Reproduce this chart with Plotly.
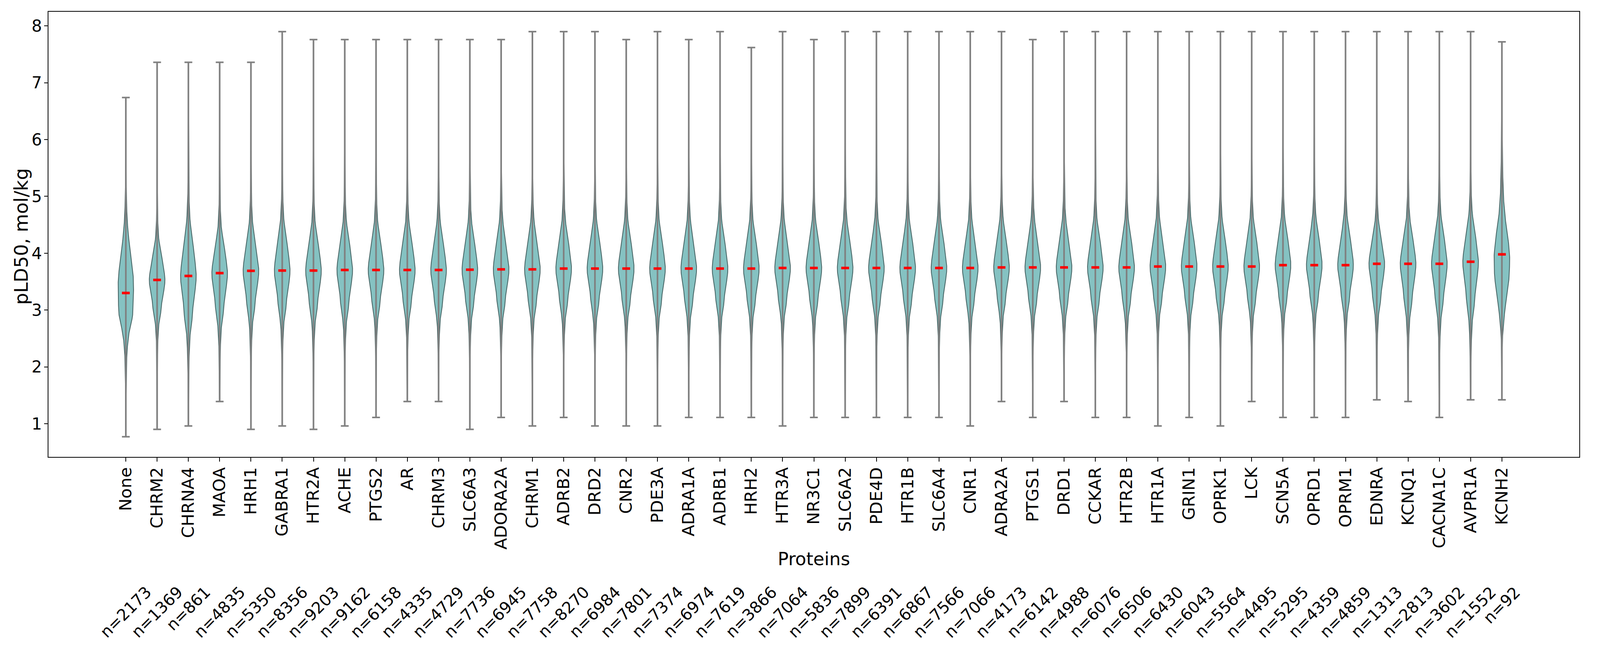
import numpy as np
import plotly.graph_objects as go

# ---------------- data ----------------
proteins = ["None", "CHRM2", "CHRNA4", "MAOA", "HRH1", "GABRA1", "HTR2A", "ACHE", "PTGS2", "AR",
            "CHRM3", "SLC6A3", "ADORA2A", "CHRM1", "ADRB2", "DRD2", "CNR2", "PDE3A", "ADRA1A", "ADRB1",
            "HRH2", "HTR3A", "NR3C1", "SLC6A2", "PDE4D", "HTR1B", "SLC6A4", "CNR1", "ADRA2A", "PTGS1",
            "DRD1", "CCKAR", "HTR2B", "HTR1A", "GRIN1", "OPRK1", "LCK", "SCN5A", "OPRD1", "OPRM1",
            "EDNRA", "KCNQ1", "CACNA1C", "AVPR1A", "KCNH2"]

counts = [2173, 1369, 861, 4835, 5350, 8356, 9203, 9162, 6158, 4335,
          4729, 7736, 6945, 7758, 8270, 6984, 7801, 7374, 6974, 7619,
          3866, 7064, 5836, 7899, 6391, 6867, 7566, 7066, 4173, 6142,
          4988, 6076, 6506, 6430, 6043, 5564, 4495, 5295, 4359, 4859,
          1313, 2813, 3602, 1552, 92]

medians = [3.30, 3.53, 3.60, 3.65, 3.69, 3.695, 3.695, 3.705, 3.705, 3.705,
           3.705, 3.71, 3.716, 3.716, 3.73, 3.73, 3.73, 3.73, 3.73, 3.73,
           3.73, 3.74, 3.74, 3.74, 3.74, 3.74, 3.74, 3.74, 3.75, 3.75,
           3.75, 3.75, 3.75, 3.766, 3.766, 3.766, 3.766, 3.79, 3.79, 3.79,
           3.814, 3.814, 3.814, 3.85, 3.98]

mins = [0.77, 0.90, 0.96, 1.39, 0.90, 0.96, 0.90, 0.96, 1.11, 1.39,
        1.39, 0.90, 1.11, 0.96, 1.11, 0.96, 0.96, 0.96, 1.11, 1.11,
        1.11, 0.96, 1.11, 1.11, 1.11, 1.11, 1.11, 0.96, 1.39, 1.11,
        1.39, 1.11, 1.11, 0.96, 1.11, 0.96, 1.39, 1.11, 1.11, 1.11,
        1.42, 1.39, 1.11, 1.42, 1.42]

maxs = [6.74, 7.36, 7.36, 7.36, 7.36, 7.90, 7.76, 7.76, 7.76, 7.76,
        7.76, 7.76, 7.76, 7.90, 7.90, 7.90, 7.76, 7.90, 7.76, 7.90,
        7.62, 7.90, 7.76, 7.90, 7.90, 7.90, 7.90, 7.90, 7.90, 7.76,
        7.90, 7.90, 7.90, 7.90, 7.90, 7.90, 7.90, 7.90, 7.90, 7.90,
        7.90, 7.90, 7.90, 7.90, 7.72]

# spread of each body above / below the median, relative to the typical body
spread_up = [1.0, 0.85, 1.15, 0.95, 1.0, 1.05, 1.0, 1.0, 1.0, 1.0,
             1.0, 1.0, 1.0, 1.0, 1.0, 1.0, 1.0, 1.0, 1.0, 1.0,
             1.0, 1.0, 1.0, 1.0, 1.0, 1.0, 1.0, 1.0, 1.0, 1.0,
             1.0, 1.0, 1.0, 1.0, 1.0, 1.0, 1.0, 1.0, 1.0, 1.0,
             0.9, 0.95, 1.0, 1.0, 1.0]
spread_lo = [1.0, 0.9, 1.2, 1.1, 1.05, 1.05, 1.05, 1.05, 1.0, 1.0,
             1.0, 1.0, 1.0, 1.0, 1.0, 1.0, 1.0, 1.0, 1.0, 1.0,
             1.0, 1.0, 1.0, 1.0, 1.0, 1.0, 1.0, 1.0, 1.0, 1.0,
             1.0, 1.0, 1.0, 1.0, 1.0, 1.0, 1.0, 1.0, 1.0, 1.0,
             1.05, 1.1, 1.1, 1.2, 1.0]

shape_kind = ["none"] + ["typical"] * 43 + ["kcnh2"]

# body outlines: offset from median -> relative half width (1 = widest)
typical_offsets = [-3.2, -2.5, -1.9, -1.55, -1.2, -1.0, -0.85, -0.71, -0.6, -0.5, -0.43, -0.29,
                   -0.15, -0.05, 0.0, 0.08, 0.21, 0.43, 0.64, 0.85, 1.06, 1.27, 1.63, 2.2, 3.0, 4.3]
typical_widths = [0.0, 0.012, 0.03, 0.045, 0.09, 0.15, 0.23, 0.38, 0.52, 0.56, 0.6, 0.76,
                  0.93, 0.99, 1.0, 0.98, 0.86, 0.65, 0.41, 0.21, 0.12, 0.075, 0.045, 0.02, 0.008, 0.0]

none_offsets = [-2.6, -2.0, -1.82, -1.47, -1.12, -0.98, -0.84, -0.70, -0.57, -0.43, -0.29,
                -0.08, 0.12, 0.33, 0.54, 0.70, 0.92, 1.13, 1.34, 1.63, 1.98, 2.33, 3.0, 3.5]
none_widths = [0.0, 0.02, 0.03, 0.06, 0.12, 0.18, 0.27, 0.41, 0.6, 0.84, 0.93,
               0.96, 1.0, 0.93, 0.73, 0.6, 0.4, 0.25, 0.15, 0.08, 0.04, 0.025, 0.01, 0.0]

kcnh2_offsets = [-2.56, -1.79, -1.44, -1.23, -0.95, -0.67, -0.39, -0.11, 0.0, 0.3, 0.65,
                 1.0, 1.35, 1.88, 2.4, 3.0, 3.74]
kcnh2_widths = [0.0, 0.03, 0.09, 0.2, 0.4, 0.7, 0.94, 1.0, 0.99, 0.78, 0.4,
                0.2, 0.12, 0.06, 0.04, 0.02, 0.0]

profiles = {
    "typical": (typical_offsets, typical_widths),
    "none": (none_offsets, none_widths),
    "kcnh2": (kcnh2_offsets, kcnh2_widths),
}

# ---------------- page geometry ----------------
# The photographed viewport is about 4080 px wide and 1686 px tall; the page
# has the default 8 px body margin. Map reference-picture pixels onto it.
VIEW_W, VIEW_H = 4080, 1686
REF_W = 4359
KX = VIEW_W / REF_W
BODY = 8


def fx(p):
    return p * KX - BODY


def fy(p):
    return p - BODY


W, H = VIEW_W - 2 * BODY, VIEW_H - 2 * BODY
ax_left, ax_right = fx(133), fx(4319)
ax_top, ax_bottom = fy(30), fy(1169)
L, R, T, B = ax_left, W - ax_right, ax_top, H - ax_bottom
plot_w, plot_h = ax_right - ax_left, ax_bottom - ax_top

# ---------------- styling ----------------
FONT = "DejaVu Sans"
BODY_FILL = "rgba(0,128,128,0.48)"
BODY_EDGE = "rgb(72,102,102)"
BAR_COLOR = "#808080"
HALF_WIDTH = 0.25
CAP_HALF = 0.125

fig = go.Figure()
positions = list(range(len(proteins)))

for i, name in enumerate(proteins):
    lo, hi, med = mins[i], maxs[i], medians[i]
    offs, wids = profiles[shape_kind[i]]
    y = np.linspace(lo, hi, 500)
    d = y - med
    dn = np.where(d >= 0, d / spread_up[i], d / spread_lo[i])
    w = HALF_WIDTH * np.interp(dn, offs, wids)
    xs = np.concatenate([positions[i] - w, (positions[i] + w)[::-1]])
    ys = np.concatenate([y, y[::-1]])
    fig.add_trace(go.Scatter(x=xs, y=ys, mode="lines", fill="toself",
                             fillcolor=BODY_FILL, line=dict(color=BODY_EDGE, width=2.1),
                             hoverinfo="skip", showlegend=False, name=name))

# vertical bars
bx, by = [], []
for i in positions:
    bx += [i, i, None]
    by += [mins[i], maxs[i], None]
fig.add_trace(go.Scatter(x=bx, y=by, mode="lines", line=dict(color=BAR_COLOR, width=4.2),
                         hoverinfo="skip", showlegend=False))

# caps
cx, cy = [], []
for i in positions:
    for v in (mins[i], maxs[i]):
        cx += [i - CAP_HALF, i + CAP_HALF, None]
        cy += [v, v, None]
fig.add_trace(go.Scatter(x=cx, y=cy, mode="lines", line=dict(color=BAR_COLOR, width=4),
                         hoverinfo="skip", showlegend=False))

# medians
mx, my = [], []
for i in positions:
    mx += [i - CAP_HALF, i + CAP_HALF, None]
    my += [medians[i], medians[i], None]
fig.add_trace(go.Scatter(x=mx, y=my, mode="lines", line=dict(color="red", width=6.5),
                         hoverinfo="skip", showlegend=False))

annotations = []
n_top = (ax_bottom - fy(1488)) / plot_h
for i in positions:
    annotations.append(dict(x=i, xref="x", y=n_top, yref="paper",
                            text=f"n={counts[i]}", showarrow=False, textangle=-45,
                            xanchor="center", yanchor="top",
                            font=dict(family=FONT, size=41, color="black")))
annotations.append(dict(x=0.5, xref="paper", y=(ax_bottom - fy(1430)) / plot_h, yref="paper",
                        text="Proteins", showarrow=False, xanchor="center", yanchor="middle",
                        font=dict(family=FONT, size=46, color="black")))
annotations.append(dict(x=(fx(58) - ax_left) / plot_w, xref="paper",
                        y=(ax_bottom - fy(605)) / plot_h, yref="paper",
                        text="pLD50, mol/kg", showarrow=False, textangle=-90,
                        xanchor="center", yanchor="middle",
                        font=dict(family=FONT, size=48, color="black")))

fig.update_layout(
    width=W, height=H,
    margin=dict(l=L, r=R, t=T, b=B, pad=0, autoexpand=False),
    paper_bgcolor="white", plot_bgcolor="white",
    showlegend=False,
    annotations=annotations,
    font=dict(family=FONT, color="black"),
)
fig.update_xaxes(
    range=[-2.475, 46.475], tickmode="array", tickvals=positions, ticktext=proteins,
    tickangle=-90, tickfont=dict(family=FONT, size=43, color="black"),
    ticks="outside", ticklen=10, tickwidth=2, tickcolor="black",
    ticklabelstandoff=-3,
    showline=True, linecolor="black", linewidth=2.4, mirror=True,
    showgrid=False, zeroline=False,
)
fig.update_yaxes(
    range=[0.415, 8.25], tickmode="array", tickvals=[1, 2, 3, 4, 5, 6, 7, 8],
    tickfont=dict(family=FONT, size=42, color="black"),
    ticks="outside", ticklen=9, tickwidth=2, tickcolor="black",
    ticklabelstandoff=-3,
    showline=True, linecolor="black", linewidth=2.4, mirror=True,
    showgrid=False, zeroline=False,
)

fig.write_html("out.html")
